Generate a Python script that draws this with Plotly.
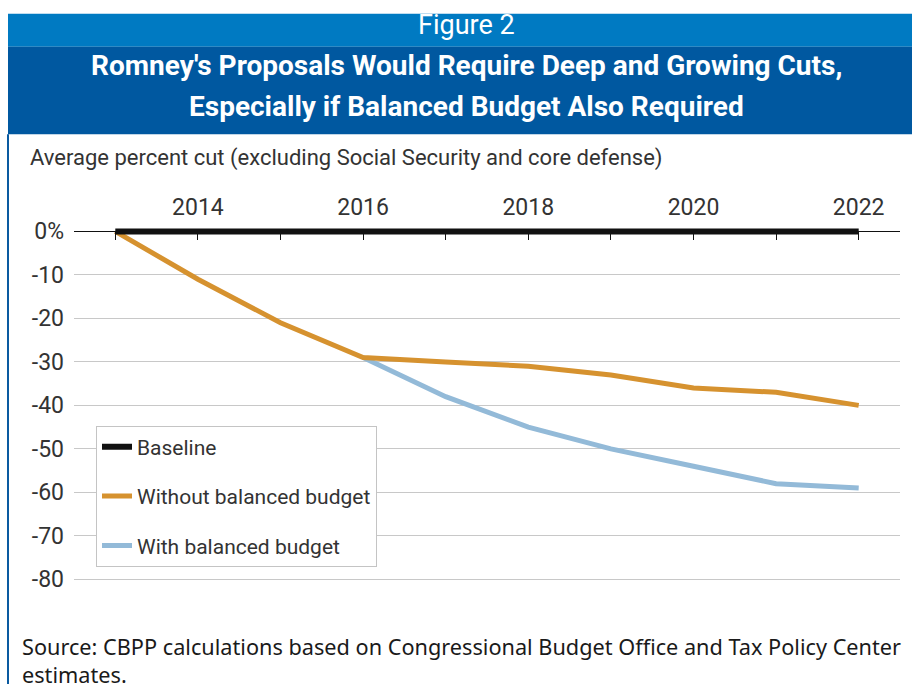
import plotly.graph_objects as go

W, H = 912, 696

years = [2013, 2014, 2015, 2016, 2017, 2018, 2019, 2020, 2021, 2022]
baseline = [0, 0, 0, 0, 0, 0, 0, 0, 0, 0]
without_bb = [0, -11, -21, -29, -30, -31, -33, -36, -37, -40]
with_bb = [None, None, None, -29, -38, -45, -50, -54, -58, -59]

y_ticks = [0, -10, -20, -30, -40, -50, -60, -70, -80]
y_text = ["0%", "-10", "-20", "-30", "-40", "-50", "-60", "-70", "-80"]
x_text = ["" if y % 2 else str(y) for y in years]

COND = "Roboto"
TXT = "#333333"

def py(p):
    return 1 - p / H

def px(p):
    return p / W

# plot geometry (pixels)
zero_px = 230.0
unit = 4.479
ymin, ymax = -80.5, 1.0
top_px = zero_px - ymax * unit
bot_px = zero_px - ymin * unit

fig = go.Figure()
fig.add_trace(go.Scatter(x=years, y=with_bb, name="With balanced budget", mode="lines",
                         line=dict(color="#93bad8", width=5), legendgroup="c", legendrank=3))
fig.add_trace(go.Scatter(x=years, y=without_bb, name="Without balanced budget", mode="lines",
                         line=dict(color="#d6922f", width=5), legendgroup="b", legendrank=2))
fig.add_trace(go.Scatter(x=years, y=baseline, name="Baseline", mode="lines",
                         line=dict(color="#111111", width=6), legendgroup="a", legendrank=1))

shapes = [
    dict(type="rect", xref="paper", yref="paper", x0=px(8), x1=1, y0=py(40), y1=py(6),
         fillcolor="#007ac2", line=dict(width=0), layer="below"),
    dict(type="rect", xref="paper", yref="paper", x0=px(8), x1=1, y0=py(130), y1=py(40),
         fillcolor="#0058a0", line=dict(width=0), layer="below"),
    dict(type="line", xref="paper", yref="paper", x0=px(8), x1=px(8), y0=0, y1=py(130),
         line=dict(color="#0a5aa0", width=2)),
]

annotations = [
    dict(text="Figure 2", x=px(466), y=py(17), xref="paper", yref="paper", showarrow=False,
         xanchor="center", yanchor="middle", font=dict(family="Roboto", size=27, color="white")),
    dict(text="Romney's Proposals Would Require Deep and Growing Cuts,", x=px(466), y=py(59),
         xref="paper", yref="paper", showarrow=False, xanchor="center", yanchor="middle",
         font=dict(family="Roboto", size=28, color="white", weight=700)),
    dict(text="Especially if Balanced Budget Also Required", x=px(466), y=py(101),
         xref="paper", yref="paper", showarrow=False, xanchor="center", yanchor="middle",
         font=dict(family="Roboto", size=28, color="white", weight=700)),
    dict(text="Average percent cut (excluding Social Security and core defense)", x=px(28), y=py(154),
         xref="paper", yref="paper", showarrow=False, xanchor="left", yanchor="middle",
         font=dict(family=COND, size=22, color=TXT)),
    dict(text="Source: CBPP calculations based on Congressional Budget Office and Tax Policy Center<br>estimates.",
         x=px(20), y=py(672), xref="paper", yref="paper", showarrow=False, xanchor="left", yanchor="middle",
         align="left", font=dict(family="Noto Sans", size=21.7, color="#1a1a1a")),
]

fig.update_layout(
    width=W, height=H,
    margin=dict(l=0, r=0, t=0, b=0),
    paper_bgcolor="white", plot_bgcolor="white",
    shapes=shapes, annotations=annotations,
    showlegend=True,
    legend=dict(x=px(96), y=py(430), xanchor="left", yanchor="top",
                bgcolor="white", bordercolor="#c4c4c4", borderwidth=1,
                font=dict(family=COND, size=21, color=TXT),
                traceorder="grouped", tracegroupgap=19, itemwidth=30),
    xaxis=dict(domain=[px(74), px(900)], range=[2012.5, 2022.5],
               anchor="free", position=py(zero_px), side="top",
               tickvals=years, ticktext=x_text, ticks="inside", ticklen=8,
               tickcolor="#111111", tickwidth=1,
               showline=True, linecolor="#111111", linewidth=1,
               showgrid=False, zeroline=False, ticklabelstandoff=7,
               tickfont=dict(family=COND, size=23, color=TXT)),
    yaxis=dict(domain=[py(bot_px), py(top_px)], range=[ymin, ymax],
               tickvals=y_ticks, ticktext=y_text, ticks="",
               showgrid=True, gridcolor="#c8c8c8", gridwidth=1,
               zeroline=False, showline=False, ticklabelstandoff=9,
               tickfont=dict(family=COND, size=23, color=TXT)),
)

fig.write_html("out.html")
